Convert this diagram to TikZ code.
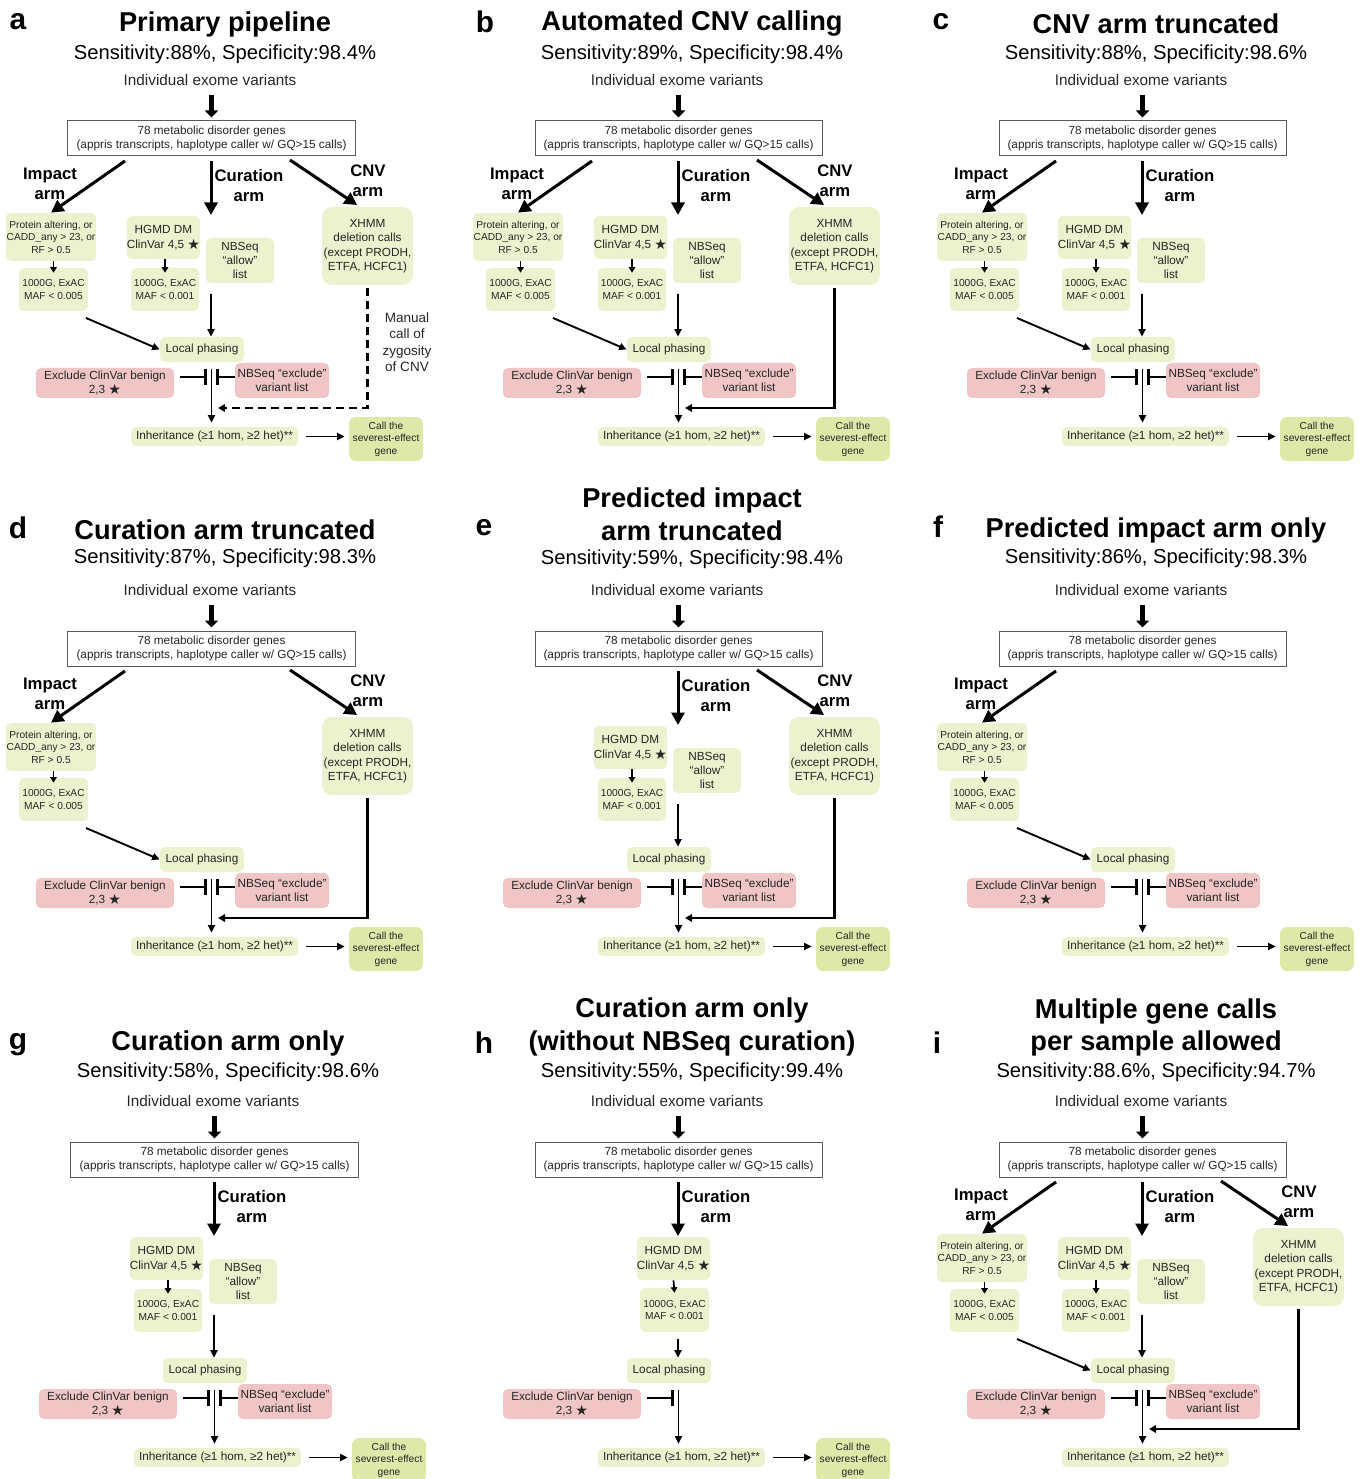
\documentclass[tikz,border=0pt]{standalone}
\usepackage{fontspec}
\setmainfont{Liberation Sans}
\newfontfamily\starfont{DejaVu Sans}
\usepackage{tikz}
\usetikzlibrary{arrows.meta}
\definecolor{boxgreen}{RGB}{236,242,205}
\definecolor{callgreen}{RGB}{222,232,168}
\definecolor{boxpink}{RGB}{239,197,197}
\newcommand{\refstar}{\raisebox{-0.2ex}{\scalebox{1.2}{\starfont ★}}}

\newcommand{\panelhead}[5]{%
\node[paneltitle] (#1title) at (225,#3) {#2};
\node[panelsub] (#1score) at (225,#5) {#4};
\node[inputtext] (#1input) at (210,80) {Individual exome variants};
\node[genebox] (#1genes) at (211.5,138.5) {78 metabolic disorder genes\\(appris transcripts, haplotype caller w/ GQ>15 calls)};
\draw[bigarrow,shorten <=1.8mm,shorten >=0.6mm] (#1input.south -| #1genes.north) -- (#1genes.north);
}
\newcommand{\panelcore}[1]{%
\node[greenbox,minimum width=16.8mm,minimum height=5mm] (#1phase) at (202,349.5) {Local phasing};
\node[pinkbox,minimum width=27.6mm,minimum height=6mm] (#1benign) at (105,383) {Exclude ClinVar benign\\2,3 \refstar};
\node[greenbox,minimum width=33.4mm,minimum height=3.8mm] (#1inherit) at (214.5,436.5) {Inheritance (≥1 hom, ≥2 het)**};
\coordinate (#1stem) at (211.5,369);
\coordinate (#1blockl) at (207,377);
\draw[flowarrow,shorten >=0.8mm] (#1stem) -- (#1inherit.north -| #1stem);
\draw[inhibit,shorten <=1.2mm] (#1benign.east |- #1blockl) -- (#1blockl);
}
\newcommand{\nbseqexclude}[1]{%
\node[pinkbox,minimum width=18.8mm,minimum height=7mm] (#1exclude) at (282,380.5) {NBSeq “exclude”\\variant list};
\coordinate (#1blockr) at (216,377);
\draw[inhibit] (#1exclude.west |- #1blockr) -- (#1blockr);
}
\newcommand{\callgene}[1]{%
\node[callbox,minimum width=14.8mm,minimum height=8.8mm] (#1call) at (386,439) {Call the\\severest-effect\\gene};
\draw[flowarrow,shorten <=1.6mm,shorten >=0.8mm] (#1inherit.east) -- (#1call.west |- #1inherit.east);
}
\newcommand{\impactarm}[1]{%
\node[armlabel] (#1implabel) at (50,184) {Impact\\arm};
\node[smallbox,minimum width=18mm,minimum height=9.6mm] (#1impfilter) at (51,237) {Protein altering, or\\CADD\_any > 23, or\\RF > 0.5};
\node[smallbox,minimum width=13.8mm,minimum height=8.6mm] (#1impmaf) at (53.5,289.5) {1000G, ExAC\\MAF < 0.005};
\coordinate (#1impstart) at (125,161);
\coordinate (#1impout) at (86,318);
\draw[armarrow] (#1impstart) -- (#1impfilter.north);
\draw[tinyarrow] (#1impfilter.south -| #1impmaf.north) -- ([yshift=-1mm]#1impmaf.north);
\draw[flowarrow] (#1impout) -- (#1phase.west);
}
\newcommand{\curationarm}[1]{%
\node[armlabel] (#1curlabel) at (249,186) {Curation\\arm};
\node[greenbox,minimum width=13.8mm,minimum height=8.6mm] (#1curdb) at (163.5,237.5) {HGMD DM\\ClinVar 4,5 \refstar};
\node[smallbox,minimum width=13.6mm,minimum height=8.6mm] (#1curmaf) at (165,289.5) {1000G, ExAC\\MAF < 0.001};
\node[greenbox,minimum width=13.6mm,minimum height=9mm] (#1allow) at (240,260.5) {NBSeq\\“allow”\\list};
\coordinate (#1curstart) at (211,161);
\coordinate (#1curtip) at (211,215);
\coordinate (#1curout) at (211,294);
\draw[armarrow] (#1curstart) -- (#1curtip);
\draw[tinyarrow] (#1curdb.south -| #1curmaf.north) -- ([yshift=-1mm]#1curmaf.north);
\draw[flowarrow] (#1curout) -- (#1curout |- #1phase.north);
}
\newcommand{\cnvarm}[1]{%
\node[armlabel] (#1cnvlabel) at (368,181) {CNV\\arm};
\node[greenbox,rounded corners=2mm,minimum width=18.2mm,minimum height=15.6mm] (#1xhmm) at (367.5,246) {XHMM\\deletion calls\\(except PRODH,\\ETFA, HCFC1)};
\coordinate (#1cnvstart) at (290,160);
\coordinate (#1cnvtip) at (357,205);
\coordinate (#1merge) at (218,408);
\draw[armarrow] (#1cnvstart) -- (#1cnvtip);
}

\begin{document}
\begin{tikzpicture}[x=0.2mm,y=-0.2mm,
  panelletter/.style={font=\fontsize{17}{20}\selectfont\bfseries,inner sep=0pt},
  paneltitle/.style={font=\fontsize{15.5}{18.7}\selectfont\bfseries,align=center,inner sep=0pt},
  panelsub/.style={font=\fontsize{11.5}{14}\selectfont,inner sep=0pt},
  inputtext/.style={font=\fontsize{8.7}{10}\selectfont,inner sep=0pt,text=black!85},
  genebox/.style={draw=black!65,fill=white,line width=0.2mm,minimum width=57.4mm,minimum height=7mm,inner sep=0pt,align=center,font=\fontsize{6.7}{8}\selectfont,text=black!85},
  greenbox/.style={fill=boxgreen,rounded corners=1mm,inner sep=0pt,align=center,font=\fontsize{6.7}{8.2}\selectfont,text=black!85},
  smallbox/.style={greenbox,font=\fontsize{5.8}{7.1}\selectfont},
  callbox/.style={smallbox,fill=callgreen,rounded corners=1.4mm},
  pinkbox/.style={greenbox,fill=boxpink},
  armlabel/.style={font=\fontsize{9.5}{11.4}\selectfont\bfseries,align=center,inner sep=0pt},
  notetext/.style={font=\fontsize{7.7}{9.3}\selectfont,align=center,inner sep=0pt,text=black!85},
  bigarrow/.style={line width=1mm,-{Triangle[length=1.4mm,width=2.6mm]}},
  armarrow/.style={line width=0.6mm,-{Triangle[length=2.5mm,width=2.6mm]}},
  flowarrow/.style={line width=0.38mm,-{Triangle[length=1.5mm,width=1.4mm]}},
  tinyarrow/.style={line width=0.35mm,-{Triangle[length=1.1mm,width=1.3mm]}},
  joinline/.style={line width=0.45mm,-{Triangle[length=1.4mm,width=1.5mm]}},
  inhibit/.style={line width=0.45mm,-{Bar[width=3.2mm,line width=0.6mm]}}]
\useasboundingbox (0,0) rectangle (1364,1479);
\node[panelletter] (la) at (18,22) {a};
\node[panelletter] (lb) at (485,22) {b};
\node[panelletter] (lc) at (941,22) {c};
\node[panelletter] (ld) at (18,528) {d};
\node[panelletter] (le) at (484,528) {e};
\node[panelletter] (lf) at (938,527) {f};
\node[panelletter] (lg) at (18,1045) {g};
\node[panelletter] (lh) at (484,1043) {h};
\node[panelletter] (li) at (937,1043) {i};
\begin{scope}[shift={(0,0)}]
\panelhead{a}{Primary pipeline}{24}{Sensitivity:88\%, Specificity:98.4\%}{54}
\panelcore{a}
\nbseqexclude{a}
\callgene{a}
\impactarm{a}
\curationarm{a}
\cnvarm{a}
\draw[joinline,dash pattern=on 1.6mm off 1mm,shorten <=0.6mm] (axhmm.south) |- (amerge);
\node[notetext] (amanual) at (407,342) {Manual\\call of\\zygosity\\of CNV};
\end{scope}
\begin{scope}[shift={(467,0)}]
\panelhead{b}{Automated CNV calling}{24}{Sensitivity:89\%, Specificity:98.4\%}{54}
\panelcore{b}
\nbseqexclude{b}
\callgene{b}
\impactarm{b}
\curationarm{b}
\cnvarm{b}
\draw[joinline,shorten <=0.6mm] (bxhmm.south) |- (bmerge);
\end{scope}
\begin{scope}[shift={(931,0)}]
\panelhead{c}{CNV arm truncated}{24}{Sensitivity:88\%, Specificity:98.6\%}{54}
\panelcore{c}
\nbseqexclude{c}
\callgene{c}
\impactarm{c}
\curationarm{c}
\end{scope}
\begin{scope}[shift={(0,510)}]
\panelhead{d}{Curation arm truncated}{20}{Sensitivity:87\%, Specificity:98.3\%}{48}
\panelcore{d}
\nbseqexclude{d}
\callgene{d}
\impactarm{d}
\cnvarm{d}
\draw[joinline,shorten <=0.6mm] (dxhmm.south) |- (dmerge);
\end{scope}
\begin{scope}[shift={(467,510)}]
\panelhead{e}{Predicted impact\\arm truncated}{4}{Sensitivity:59\%, Specificity:98.4\%}{49}
\panelcore{e}
\nbseqexclude{e}
\callgene{e}
\curationarm{e}
\cnvarm{e}
\draw[joinline,shorten <=0.6mm] (exhmm.south) |- (emerge);
\end{scope}
\begin{scope}[shift={(931,510)}]
\panelhead{f}{Predicted impact arm only}{20}{Sensitivity:86\%, Specificity:98.3\%}{48}
\panelcore{f}
\nbseqexclude{f}
\callgene{f}
\impactarm{f}
\end{scope}
\begin{scope}[shift={(3,1021)}]
\panelhead{g}{Curation arm only}{22}{Sensitivity:58\%, Specificity:98.6\%}{51}
\panelcore{g}
\nbseqexclude{g}
\callgene{g}
\curationarm{g}
\end{scope}
\begin{scope}[shift={(467,1021)}]
\panelhead{h}{Curation arm only\\(without NBSeq curation)}{6}{Sensitivity:55\%, Specificity:99.4\%}{51}
\panelcore{h}
\callgene{h}
\node[armlabel] (hcurlabel) at (249,186) {Curation\\arm};
\node[greenbox,minimum width=13.8mm,minimum height=8.6mm] (hcurdb) at (206.5,237.5) {HGMD DM\\ClinVar 4,5 \refstar};
\node[smallbox,minimum width=13.8mm,minimum height=8.8mm] (hcurmaf) at (207.5,289) {1000G, ExAC\\MAF < 0.001};
\coordinate (hcurstart) at (211,161);
\coordinate (hcurtip) at (211,215);
\coordinate (hcurout) at (211,318);
\draw[armarrow] (hcurstart) -- (hcurtip);
\draw[tinyarrow] (hcurdb.south) -- ([yshift=-1mm]hcurmaf.north);
\draw[flowarrow] (hcurout) -- (hcurout |- hphase.north);
\end{scope}
\begin{scope}[shift={(931,1021)}]
\panelhead{i}{Multiple gene calls\\per sample allowed}{6.5}{Sensitivity:88.6\%, Specificity:94.7\%}{51}
\panelcore{i}
\nbseqexclude{i}
\impactarm{i}
\curationarm{i}
\cnvarm{i}
\draw[joinline,shorten <=0.6mm] (ixhmm.south) |- (imerge);
\end{scope}
\end{tikzpicture}
\end{document}
